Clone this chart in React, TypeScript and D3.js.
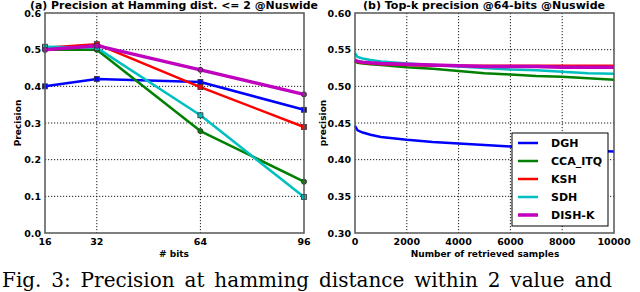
import * as d3 from "d3";

const bits = [16, 32, 64, 96];
const bitTicks = ["16", "32", "64", "96"];

const methods = ["DGH", "CCA_ITQ", "KSH", "SDH", "DISH-K"];
const colors = ["#0000ff", "#008000", "#ff0000", "#00bfbf", "#bf00bf"];
const widths = [2.5, 2.5, 2.5, 2.5, 3.5];
const markers = ["square", "circle", "square", "square", "circle"];

// (a) precision at hamming dist <= 2
const hamDGH = [0.40, 0.42, 0.412, 0.336];
const hamCCA = [0.50, 0.50, 0.278, 0.14];
const hamKSH = [0.505, 0.515, 0.398, 0.289];
const hamSDH = [0.508, 0.505, 0.321, 0.098];
const hamDISH = [0.50, 0.511, 0.445, 0.378];

// (b) top-k precision
const samples = [0, 100, 300, 600, 1000, 2000, 3000, 4000, 5000, 6000, 7000, 8000, 9000, 10000];
const topDGH = [0.446, 0.44, 0.437, 0.434, 0.431, 0.427, 0.424, 0.422, 0.42, 0.418, 0.416, 0.414, 0.412, 0.411];
const topCCA = [0.534, 0.532, 0.531, 0.53, 0.529, 0.526, 0.524, 0.521, 0.518, 0.516, 0.514, 0.513, 0.511, 0.509];
const topKSH = [0.534, 0.533, 0.532, 0.531, 0.53, 0.529, 0.528, 0.528, 0.528, 0.528, 0.528, 0.528, 0.528, 0.528];
const topSDH = [0.545, 0.54, 0.538, 0.536, 0.534, 0.531, 0.529, 0.527, 0.525, 0.523, 0.522, 0.52, 0.518, 0.517];
const topDISH = [0.536, 0.534, 0.533, 0.532, 0.531, 0.53, 0.529, 0.528, 0.527, 0.527, 0.527, 0.526, 0.526, 0.526];

const hamSeries = [hamDGH, hamCCA, hamKSH, hamSDH, hamDISH];
const topSeries = [topDGH, topCCA, topKSH, topSDH, topDISH];

const leftYTicks = [0, 0.1, 0.2, 0.3, 0.4, 0.5, 0.6];
const rightYTicks = [0.3, 0.35, 0.4, 0.45, 0.5, 0.55, 0.6];
const rightXTicks = [0, 2000, 4000, 6000, 8000, 10000];

const W = 640;
const H = 292;
const TOP = 13;
const BOTTOM = 233;
const FONT = "DejaVu Sans, sans-serif";

function Frame({ x0, x1 }: { x0: number; x1: number }) {
  return (
    <rect x={x0} y={TOP} width={x1 - x0} height={BOTTOM - TOP}
      fill="none" stroke="#555" strokeWidth={1.5} />
  );
}

function Marker({ type, x, y, color }: { type: string; x: number; y: number; color: string }) {
  if (type === "circle") {
    return <circle cx={x} cy={y} r={2.6} fill={color} stroke="#333" strokeWidth={0.8} />;
  }
  return <rect x={x - 2.5} y={y - 2.5} width={5} height={5} fill={color} stroke="#333" strokeWidth={0.8} />;
}

export default function App() {
  // left panel
  const xL = d3.scaleLinear().domain([16, 96]).range([45, 304]);
  const yL = d3.scaleLinear().domain([0, 0.6]).range([BOTTOM, TOP]);
  // right panel
  const xR = d3.scaleLinear().domain([0, 10000]).range([355, 614]);
  const yR = d3.scaleLinear().domain([0.3, 0.6]).range([BOTTOM, TOP]);

  const lineL = d3.line<number>().x((_, i) => xL(bits[i])).y(d => yL(d));
  const lineR = d3.line<number>().x((_, i) => xR(samples[i])).y(d => yR(d));

  const dots = "1.2,1.8";

  return (
    <svg width={W} height={H} style={{ position: "absolute", left: 0, top: 0, background: "#fff" }}
      fontFamily={FONT}>
      <rect width={W} height={H} fill="#fff" />

      {/* ---- panel (a) ---- */}
      <g>
        {leftYTicks.slice(1, -1).map(t => (
          <line key={"gly" + t} x1={45} x2={304} y1={yL(t)} y2={yL(t)} stroke="#000" strokeWidth={0.9} strokeDasharray={dots} />
        ))}
        {bits.slice(1, -1).map(b => (
          <line key={"glx" + b} x1={xL(b)} x2={xL(b)} y1={TOP} y2={BOTTOM} stroke="#000" strokeWidth={0.9} strokeDasharray={dots} />
        ))}
        {hamSeries.map((s, k) => (
          <path key={"hl" + k} d={lineL(s) || ""} fill="none" stroke={colors[k]} strokeWidth={widths[k]} strokeLinejoin="round" />
        ))}
        {hamSeries.map((s, k) => s.map((v, i) => (
          <Marker key={"hm" + k + i} type={markers[k]} x={xL(bits[i])} y={yL(v)} color={colors[k]} />
        )))}
        <Frame x0={45} x1={304} />
        {leftYTicks.map(t => (
          <text key={"tly" + t} x={41} y={yL(t) + 3.5} textAnchor="end" fontSize={9.5} fontWeight="bold">{t.toFixed(1)}</text>
        ))}
        {bits.map((b, i) => (
          <text key={"tlx" + b} x={xL(b)} y={245} textAnchor="middle" fontSize={9.5} fontWeight="bold">{bitTicks[i]}</text>
        ))}
        <text x={174} y={257} textAnchor="middle" fontSize={9} fontWeight="bold">{"# bits"}</text>
        <text transform={`translate(21,123) rotate(-90)`} textAnchor="middle" fontSize={9} fontWeight="bold">Precision</text>
        <text x={30} y={8.5} fontSize={10.5} fontWeight="bold" textLength={288} lengthAdjust="spacingAndGlyphs">
          {"(a) Precision at Hamming dist. <= 2 @Nuswide"}
        </text>
      </g>

      {/* ---- panel (b) ---- */}
      <g>
        {rightYTicks.slice(1, -1).map(t => (
          <line key={"gry" + t} x1={355} x2={614} y1={yR(t)} y2={yR(t)} stroke="#000" strokeWidth={0.9} strokeDasharray={dots} />
        ))}
        {rightXTicks.slice(1, -1).map(v => (
          <line key={"grx" + v} x1={xR(v)} x2={xR(v)} y1={TOP} y2={BOTTOM} stroke="#000" strokeWidth={0.9} strokeDasharray={dots} />
        ))}
        {topSeries.map((s, k) => (
          <path key={"tl" + k} d={lineR(s) || ""} fill="none" stroke={colors[k]} strokeWidth={widths[k]} />
        ))}
        <Frame x0={355} x1={614} />
        {rightYTicks.map(t => (
          <text key={"try" + t} x={351} y={yR(t) + 3.5} textAnchor="end" fontSize={9.5} fontWeight="bold">{t.toFixed(2)}</text>
        ))}
        {rightXTicks.map(v => (
          <text key={"trx" + v} x={xR(v)} y={245} textAnchor="middle" fontSize={9.5} fontWeight="bold">{String(v)}</text>
        ))}
        <text x={485} y={257} textAnchor="middle" fontSize={9} fontWeight="bold">Number of retrieved samples</text>
        <text transform={`translate(326,123) rotate(-90)`} textAnchor="middle" fontSize={9} fontWeight="bold">precision</text>
        <text x={363} y={8.5} fontSize={10.5} fontWeight="bold" textLength={242} lengthAdjust="spacingAndGlyphs">
          {"(b) Top-k precision @64-bits @Nuswide"}
        </text>

        {/* legend */}
        <rect x={512} y={133} width={96} height={93} fill="#fff" stroke="#000" strokeWidth={1} />
        {methods.map((m, k) => (
          <g key={"lg" + m}>
            <line x1={518} x2={538} y1={143 + k * 18} y2={143 + k * 18} stroke={colors[k]} strokeWidth={widths[k]} />
            <text x={551} y={147 + k * 18} fontSize={11} fontWeight="bold">{m}</text>
          </g>
        ))}
      </g>

      {/* caption */}
      <text x={2} y={287} fontFamily="DejaVu Serif, Liberation Serif, serif" fontSize={20}
        wordSpacing={3.5}>
        Fig. 3: Precision at hamming distance within 2 value and
      </text>
    </svg>
  );
}
